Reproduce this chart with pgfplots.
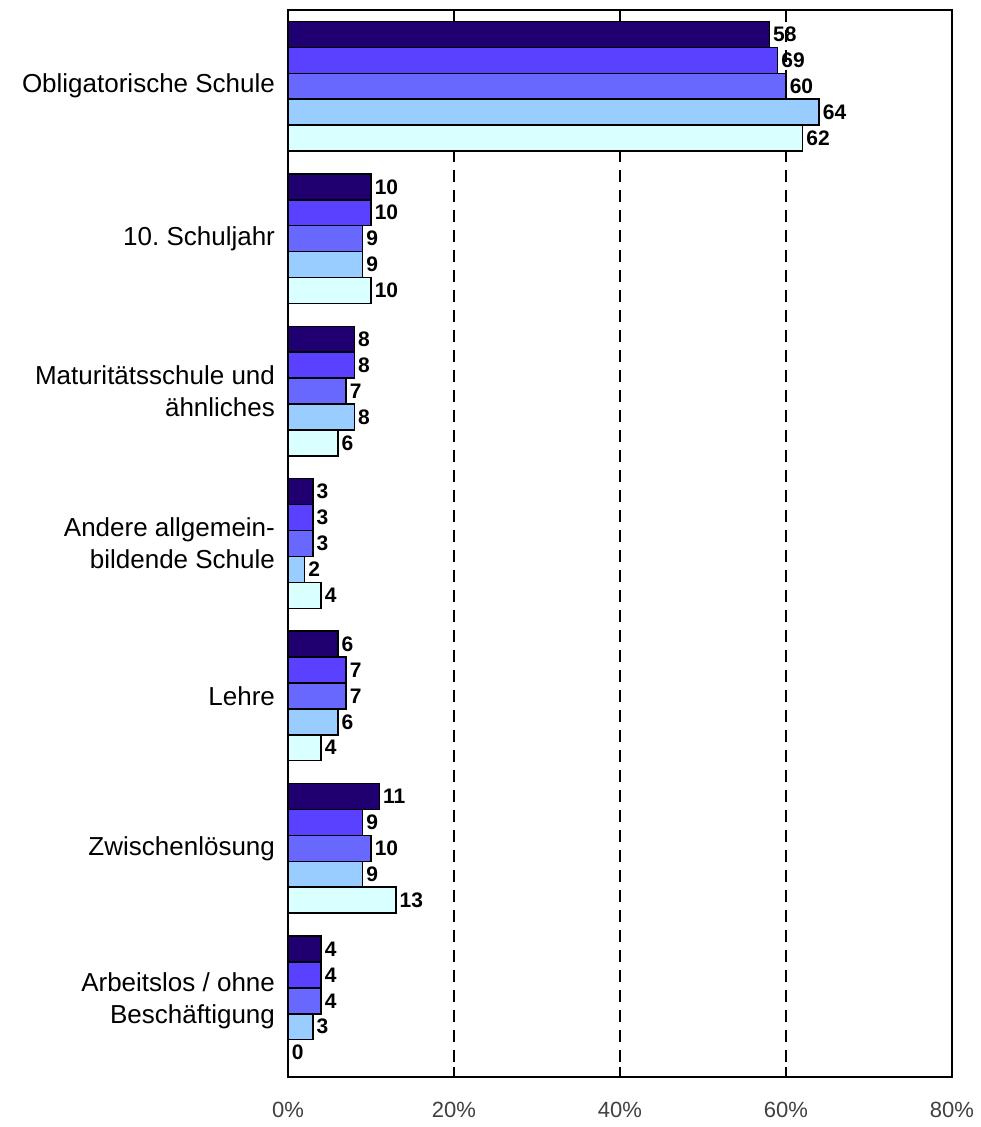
\documentclass[border=0pt]{standalone}
\usepackage{pgfplots}
\pgfplotsset{compat=1.18}
\usepackage{fontspec}
\setmainfont{Liberation Sans}
\frenchspacing
\definecolor{cA}{HTML}{200070}
\definecolor{cB}{HTML}{5A40FF}
\definecolor{cC}{HTML}{6868FF}
\definecolor{cD}{HTML}{99CCFF}
\definecolor{cE}{HTML}{DAFFFF}
\begin{document}
\begin{tikzpicture}
\begin{axis}[
  name=ax,
  scale only axis,
  width=332pt, height=533.5pt,
  xbar, bar width=0.17,
  y dir=reverse,
  xmin=0, xmax=80, ymin=-0.5, ymax=6.5,
  xtick={0,20,40,60,80},
  xticklabel={\pgfmathprintnumber{\tick}\%},
  /pgf/number format/assume math mode=true,
  xtick pos=both, tick align=inside,
  major tick length=5pt,
  xmajorgrids,
  major grid style={black, line width=0.7pt, dash pattern=on 6pt off 4pt},
  major tick style={black, line width=0.7pt},
  ytick={0,1,2,3,4,5,6},
  yticklabels={Obligatorische Schule, 10. Schuljahr, {Maturitätsschule und\\ähnliches}, {Andere allgemein-\\bildende Schule}, Lehre, Zwischenlösung, {Arbeitslos / ohne\\Beschäftigung}},
  ytick style={draw=none},
  yticklabel style={align=right, font=\fontsize{13}{16}\selectfont, xshift=-3pt},
  xticklabel style={font=\fontsize{11}{13}\selectfont, text=black!75, yshift=-9pt},
  axis line style={black, line width=0.8pt},
  every axis plot/.append style={draw=black, line width=0.75pt},
  point meta=explicit symbolic,
  nodes near coords,
  every node near coord/.append style={anchor=west, font=\fontsize{10.5}{12}\selectfont\bfseries, inner sep=1.5pt, text=black},
  clip=false,
]
\addplot[fill=cA, bar shift=-0.34] coordinates {(58,0) [58] (10,1) [10] (8,2) [8] (3,3) [3] (6,4) [6] (11,5) [11] (4,6) [4]};
\addplot[fill=cB, bar shift=-0.17] coordinates {(59,0) [69] (10,1) [10] (8,2) [8] (3,3) [3] (7,4) [7] (9,5) [9] (4,6) [4]};
\addplot[fill=cC, bar shift=0] coordinates {(60,0) [60] (9,1) [9] (7,2) [7] (3,3) [3] (7,4) [7] (10,5) [10] (4,6) [4]};
\addplot[fill=cD, bar shift=0.17] coordinates {(64,0) [64] (9,1) [9] (8,2) [8] (2,3) [2] (6,4) [6] (9,5) [9] (3,6) [3]};
\addplot[fill=cE, bar shift=0.34] coordinates {(62,0) [62] (10,1) [10] (6,2) [6] (4,3) [4] (4,4) [4] (13,5) [13] (0,6) [0]};
\end{axis}
\path (ax.south west) ++(-144pt,-25pt) rectangle ([xshift=14.5pt,yshift=5pt]ax.north east);
\end{tikzpicture}
\end{document}
